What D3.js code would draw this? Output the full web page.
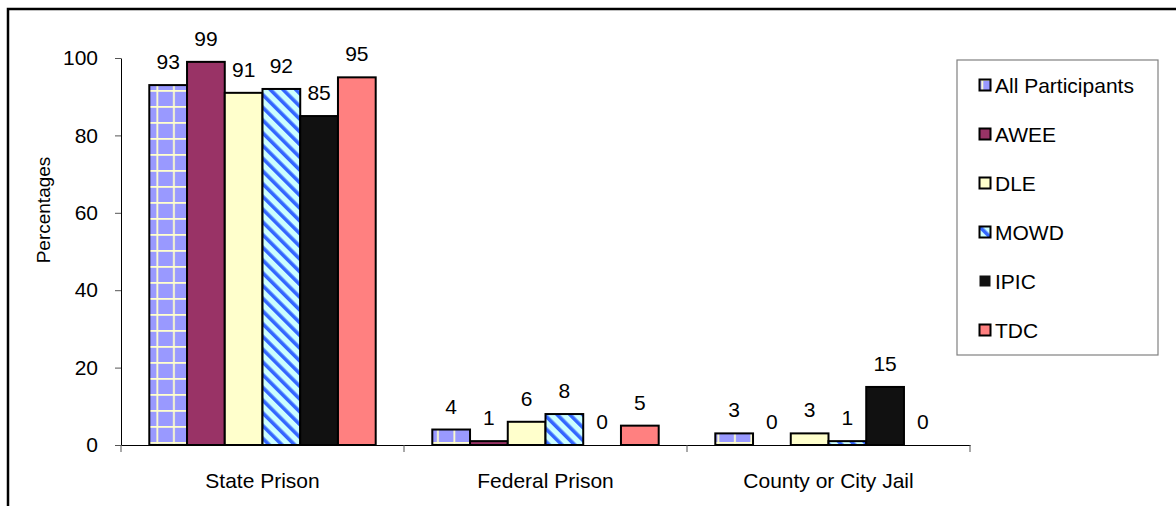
<!DOCTYPE html>
<html>
<head>
<meta charset="utf-8">
<script src="https://cdn.jsdelivr.net/npm/d3@7"></script>
<style>
  html, body { margin: 0; padding: 0; background: #fff; }
  svg text { font-family: "Liberation Sans", Arial, sans-serif; fill: #000; }
</style>
</head>
<body>
<div id="chart"></div>
<script>
((() => {

  // chart data
  var categories = ["State Prison", "Federal Prison", "County or City Jail"];
  var seriesNames = ["All Participants", "AWEE", "DLE", "MOWD", "IPIC", "TDC"];
  var allParticipants = [93, 4, 3];
  var awee = [99, 1, 0];
  var dle = [91, 6, 3];
  var mowd = [92, 8, 1];
  var ipic = [85, 0, 15];
  var tdc = [95, 5, 0];
  var yTicks = [0, 20, 40, 60, 80, 100];

  var seriesValues = [allParticipants, awee, dle, mowd, ipic, tdc];
  var fills = ["url(#grid)", "#993366", "#FFFFCC", "url(#stripes)", "#111111", "#FF8080"];

  var width = 1176;
  var height = 506;

  var svg = d3.select("#chart")
    .append("svg")
    .attr("width", width)
    .attr("height", height);

  // patterns
  var defs = svg.append("defs");

  var grid = defs.append("pattern")
    .attr("id", "grid")
    .attr("patternUnits", "userSpaceOnUse")
    .attr("x", 1).attr("y", 3)
    .attr("width", 16.5).attr("height", 16);
  grid.append("rect").attr("width", 16.5).attr("height", 16).attr("fill", "#9999FF");
  grid.append("rect").attr("x", 7).attr("width", 1.8).attr("height", 16).attr("fill", "#FFFFCC");
  grid.append("rect").attr("y", 7).attr("width", 16.5).attr("height", 1.8).attr("fill", "#FFFFCC");

  var stripes = defs.append("pattern")
    .attr("id", "stripes")
    .attr("patternUnits", "userSpaceOnUse")
    .attr("width", 9).attr("height", 9)
    .attr("patternTransform", "rotate(-45)");
  stripes.append("rect").attr("width", 9).attr("height", 9).attr("fill", "#CCFFFF");
  stripes.append("rect").attr("width", 3.6).attr("height", 9).attr("fill", "#3366FF");

  // outer chart border (right and bottom fall outside the picture)
  svg.append("rect")
    .attr("x", 8).attr("y", 9)
    .attr("width", 1300).attr("height", 700)
    .attr("fill", "none")
    .attr("stroke", "#000")
    .attr("stroke-width", 2.5);

  var plot = { left: 121, right: 970, top: 58, bottom: 445 };

  var x0 = d3.scaleBand()
    .domain(categories)
    .range([plot.left, plot.right])
    .paddingInner(0)
    .paddingOuter(0);

  var x1 = d3.scaleBand()
    .domain(seriesNames)
    .range([0, x0.bandwidth()])
    .paddingInner(0)
    .paddingOuter(0.75);

  var y = d3.scaleLinear()
    .domain([0, 100])
    .range([plot.bottom, plot.top]);

  // y axis
  var yAxis = svg.append("g")
    .attr("transform", "translate(" + plot.left + ",0)")
    .call(d3.axisLeft(y).tickValues(yTicks).tickSize(6).tickPadding(17).tickSizeOuter(0));
  yAxis.selectAll("text").style("font-size", "21px").attr("font-family", null);
  yAxis.select(".domain").attr("stroke", "#000");
  yAxis.selectAll(".tick line").attr("stroke", "#555");

  svg.append("text")
    .attr("transform", "translate(50,210) rotate(-90)")
    .attr("text-anchor", "middle")
    .style("font-size", "19px")
    .text("Percentages");

  // x axis with category labels
  var xAxis = svg.append("g")
    .attr("transform", "translate(0," + plot.bottom + ")")
    .call(d3.axisBottom(x0).tickSize(0).tickPadding(28).tickSizeOuter(0));
  xAxis.selectAll("text").style("font-size", "21px").attr("font-family", null);
  xAxis.select(".domain").attr("stroke", "#000");

  // boundary ticks between categories
  var bounds = categories.map(function(c) { return x0(c); }).concat([x0(categories[categories.length - 1]) + x0.bandwidth()]);
  svg.append("g")
    .selectAll("line")
    .data(bounds)
    .enter()
    .append("line")
    .attr("x1", function(d) { return d; })
    .attr("x2", function(d) { return d; })
    .attr("y1", plot.bottom)
    .attr("y2", plot.bottom + 7)
    .attr("stroke", "#555");

  // bars
  var groups = svg.append("g")
    .selectAll("g")
    .data(seriesNames)
    .enter()
    .append("g")
    .attr("fill", function(d, i) { return fills[i]; });

  groups.selectAll("rect")
    .data(function(d, i) {
      return seriesValues[i].map(function(v, j) { return { series: d, cat: categories[j], value: v }; });
    })
    .enter()
    .filter(function(d) { return d.value > 0; })
    .append("rect")
    .attr("x", function(d) { return x0(d.cat) + x1(d.series); })
    .attr("y", function(d) { return y(d.value); })
    .attr("width", x1.bandwidth())
    .attr("height", function(d) { return y(0) - y(d.value); })
    .attr("stroke", "#000")
    .attr("stroke-width", 2);

  // value labels
  groups.selectAll("text")
    .data(function(d, i) {
      return seriesValues[i].map(function(v, j) { return { series: d, cat: categories[j], value: v }; });
    })
    .enter()
    .append("text")
    .attr("x", function(d) { return x0(d.cat) + x1(d.series) + x1.bandwidth() / 2; })
    .attr("y", function(d) { return y(d.value) - 16; })
    .attr("text-anchor", "middle")
    .style("font-size", "21px")
    .style("fill", "#000")
    .text(function(d) { return d.value; });

  // legend
  var legend = svg.append("g")
    .attr("class", "legend")
    .attr("transform", "translate(957,60)");

  legend.append("rect")
    .attr("width", 201).attr("height", 295)
    .attr("fill", "#fff")
    .attr("stroke", "#808080")
    .attr("stroke-width", 1.2);

  var items = legend.selectAll("g.item")
    .data(seriesNames)
    .enter()
    .append("g")
    .attr("class", "item")
    .attr("transform", function(d, i) { return "translate(0," + (25 + i * 49) + ")"; });

  items.append("rect")
    .attr("x", 22.5).attr("y", -5.5)
    .attr("width", 11).attr("height", 11)
    .attr("fill", function(d, i) { return fills[i]; })
    .attr("stroke", "#000")
    .attr("stroke-width", function(d, i) { return i === 4 ? 0 : 2; });

  items.append("text")
    .attr("x", 38)
    .attr("y", 7.5)
    .style("font-size", "21px")
    .text(function(d) { return d; });

})());
</script>
</body>
</html>
